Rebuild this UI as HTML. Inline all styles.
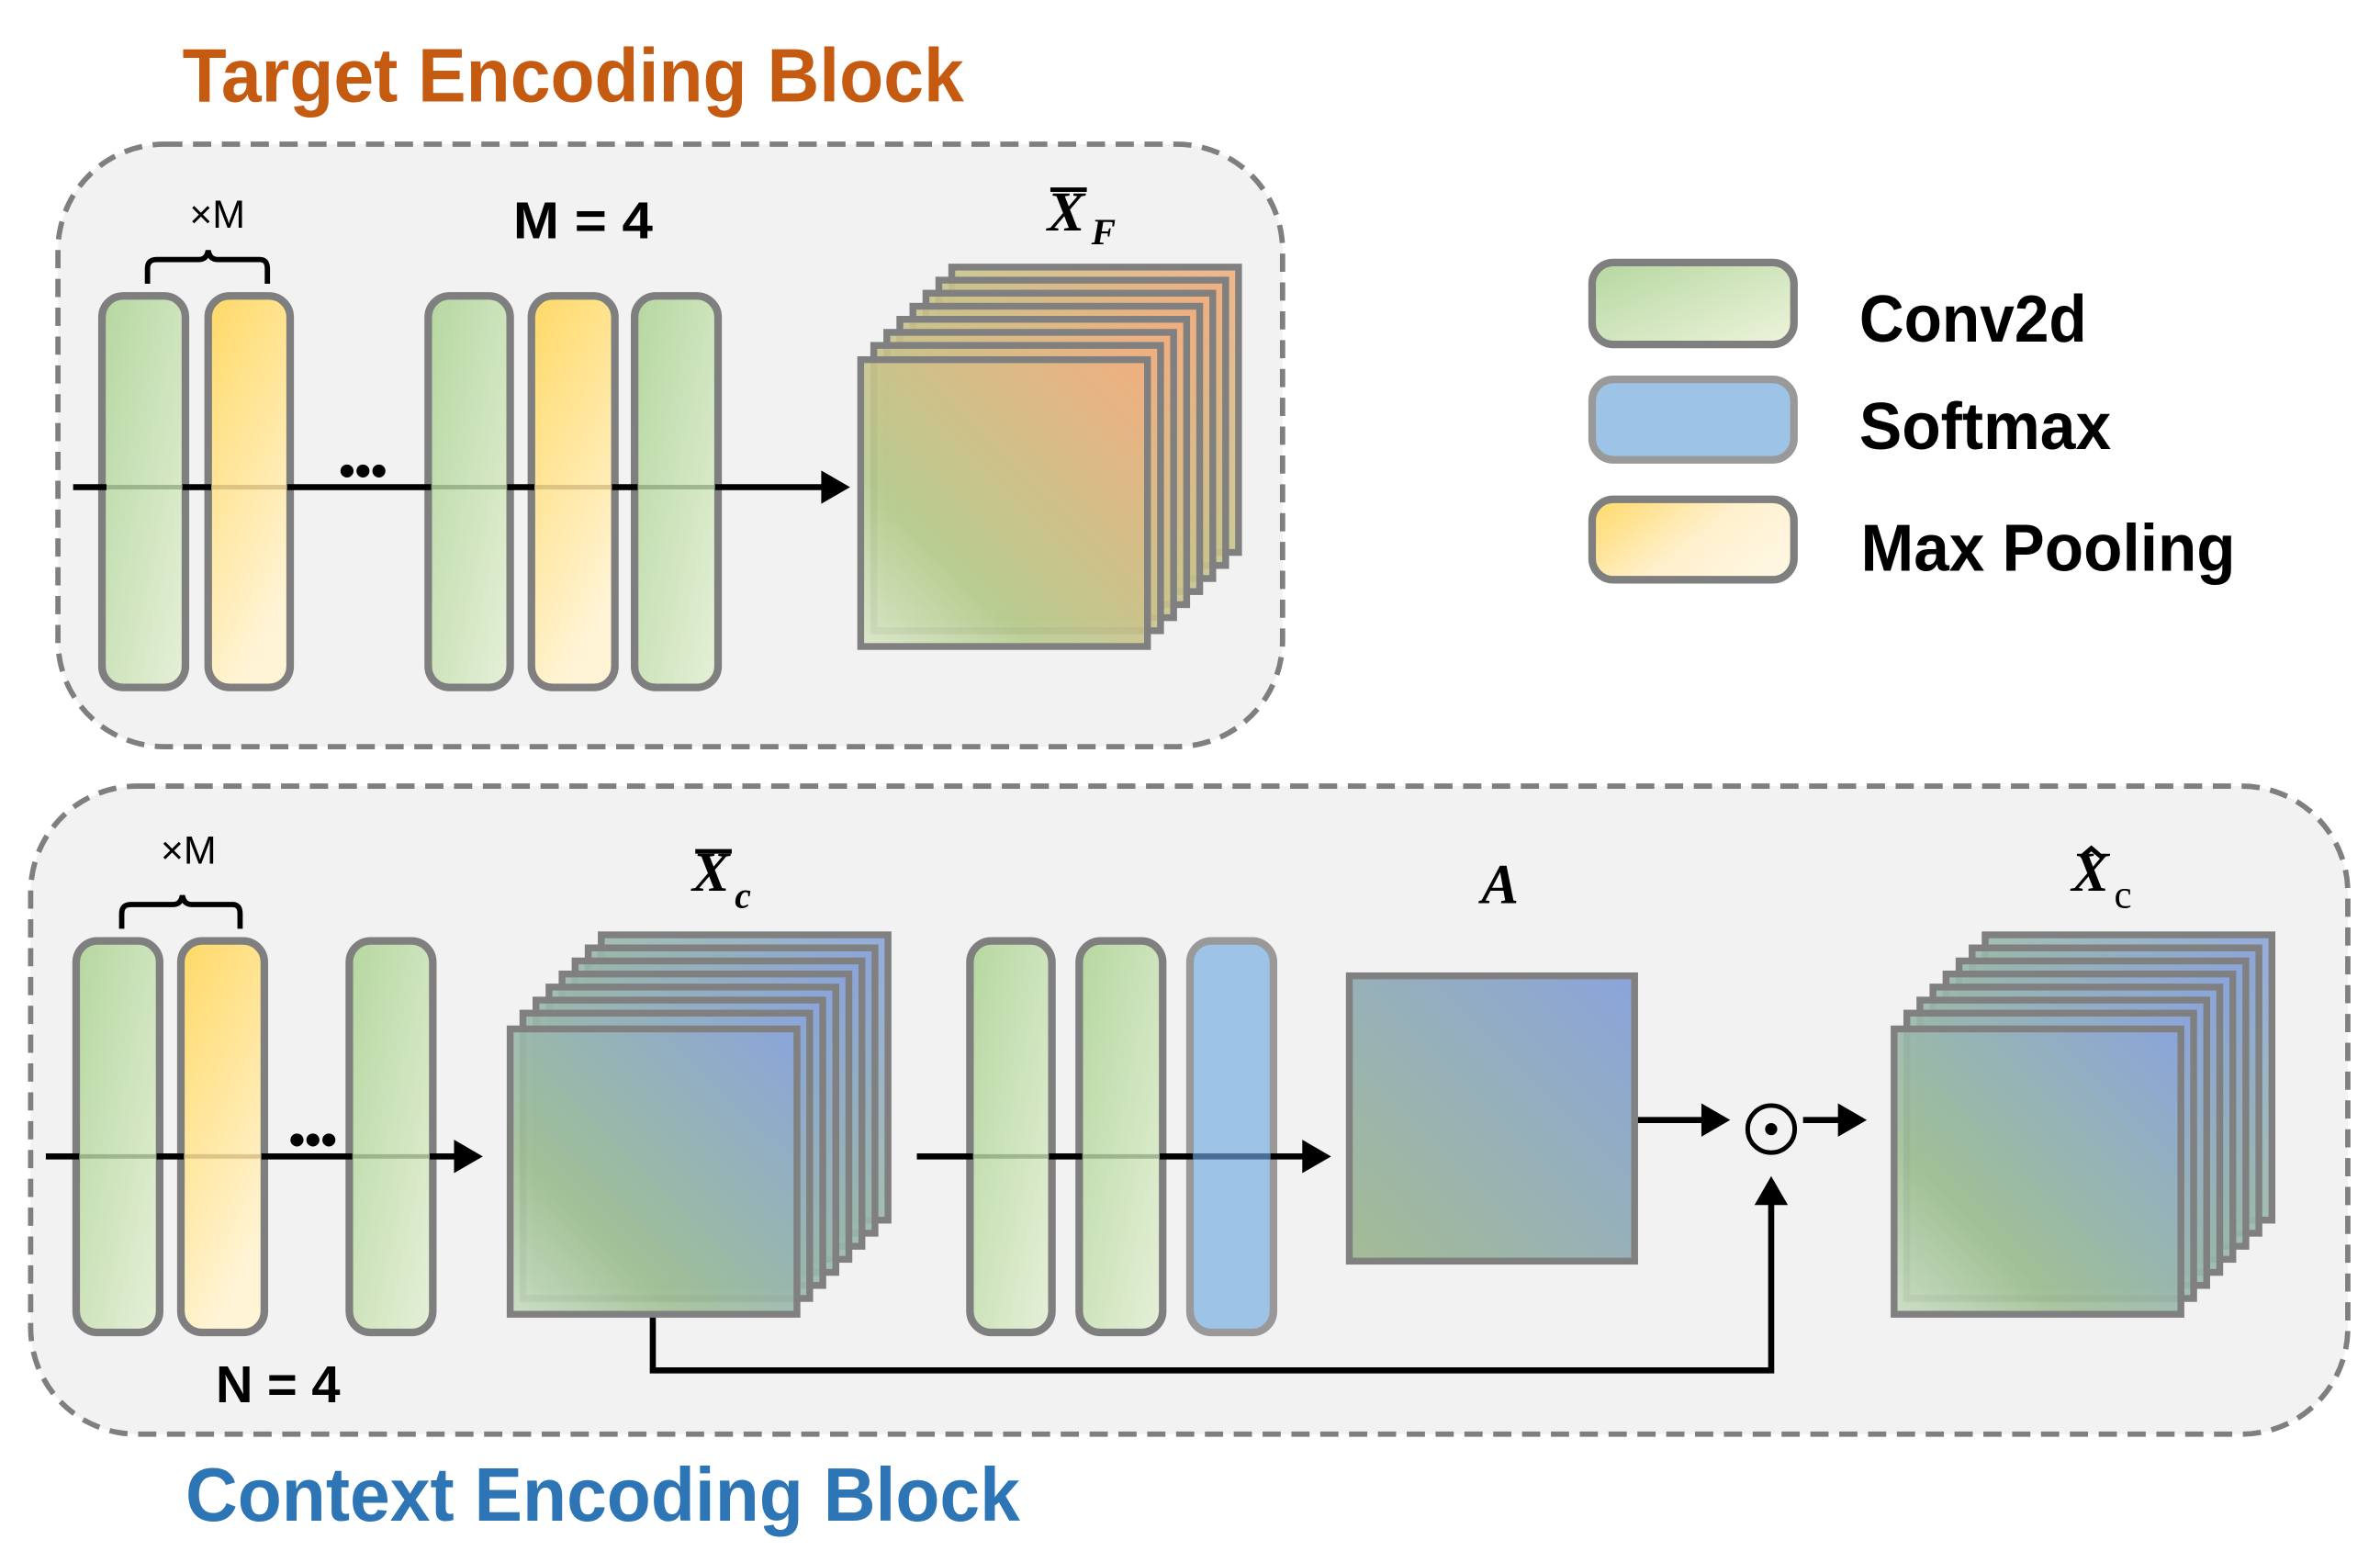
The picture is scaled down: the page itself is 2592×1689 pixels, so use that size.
<!DOCTYPE html>
<html><head><meta charset="utf-8"><style>
html,body{margin:0;padding:0;background:#fff;}
svg{display:block;}
.t{font-family:"Liberation Sans",sans-serif;font-weight:bold;}
.m{font-family:"Liberation Serif",serif;font-weight:bold;font-style:italic;}
</style></head><body>
<svg width="2592" height="1689" viewBox="0 0 1568 1022" xmlns="http://www.w3.org/2000/svg">
<defs>
<linearGradient id="g" x1="0" y1="0" x2="1" y2="1"><stop offset="0" stop-color="#b5d7a0"/><stop offset="1" stop-color="#e6f0d8"/></linearGradient>
<linearGradient id="o" x1="0" y1="0" x2="0.4" y2="1"><stop offset="0" stop-color="#ffd966"/><stop offset="1" stop-color="#fff4d6"/></linearGradient>
<linearGradient id="lg" x1="0" y1="0" x2="1" y2="1"><stop offset="0" stop-color="#b5d7a0"/><stop offset="1" stop-color="#eef4dc"/></linearGradient>
<linearGradient id="lo" x1="0" y1="0" x2="1" y2="0.5"><stop offset="0" stop-color="#ffd966"/><stop offset="0.6" stop-color="#fff0cc"/><stop offset="1" stop-color="#fff6e0"/></linearGradient>
<linearGradient id="sf" x1="0" y1="1" x2="1" y2="0"><stop offset="0" stop-color="#d8e6c8"/><stop offset="0.3" stop-color="#b8cc90"/><stop offset="1" stop-color="#f2ae80"/></linearGradient>
<linearGradient id="sc" x1="0" y1="1" x2="1" y2="0"><stop offset="0" stop-color="#c8dcc0"/><stop offset="0.3" stop-color="#a0c096"/><stop offset="1" stop-color="#8aa4dc"/></linearGradient>
<linearGradient id="sa" x1="0" y1="1" x2="1" y2="0"><stop offset="0" stop-color="#a4bc94"/><stop offset="1" stop-color="#8aa4dc"/></linearGradient>
</defs>

<text class="t" x="120" y="67" font-size="50" fill="#c55a11" textLength="515" lengthAdjust="spacingAndGlyphs">Target Encoding Block</text>
<rect x="38" y="95" width="807" height="397" rx="70" fill="#f2f2f2" stroke="#7f7f7f" stroke-width="3.5" stroke-dasharray="12,7"/>

<rect x="20" y="518" width="1527" height="427" rx="70" fill="#f2f2f2" stroke="#7f7f7f" stroke-width="3.5" stroke-dasharray="12,7"/>
<text class="t" x="122" y="1002" font-size="50" fill="#2e75b6" textLength="550" lengthAdjust="spacingAndGlyphs">Context Encoding Block</text>

<!-- top block -->
<g stroke="#7f7f7f" stroke-width="5">
<rect x="67" y="195" width="55" height="258" rx="14" fill="url(#g)"/>
<rect x="137" y="195" width="54" height="258" rx="14" fill="url(#o)"/>
<rect x="282" y="195" width="54" height="258" rx="14" fill="url(#g)"/>
<rect x="350" y="195" width="55" height="258" rx="14" fill="url(#o)"/>
<rect x="418" y="195" width="55" height="258" rx="14" fill="url(#g)"/>
</g>
<g stroke="#000" stroke-width="4" fill="none">
<line x1="48" y1="321" x2="70" y2="321"/><line x1="120" y1="321" x2="139" y2="321"/>
<line x1="189" y1="321" x2="284" y2="321"/><line x1="334" y1="321" x2="352" y2="321"/><line x1="403" y1="321" x2="420" y2="321"/>
<line x1="471" y1="321" x2="545" y2="321"/>
</g>
<g stroke="#7f9a70" stroke-width="3" opacity="0.6"><line x1="70" y1="321" x2="120" y2="321"/><line x1="284" y1="321" x2="334" y2="321"/><line x1="420" y1="321" x2="471" y2="321"/></g>
<g stroke="#c9ad70" stroke-width="3" opacity="0.6"><line x1="139" y1="321" x2="189" y2="321"/><line x1="352" y1="321" x2="403" y2="321"/></g>
<path d="M560,321 l-19,-11 v22 z" fill="#000"/>
<text class="t" x="239" y="320" font-size="30" text-anchor="middle">•••</text>
<path d="M97,187 v-10 q0,-6 6,-6 h28 q5,0 6,-6 q1,6 6,6 h28 q5,0 5,6 v10" fill="none" stroke="#000" stroke-width="3.5"/>
<text x="143" y="150" font-family="Liberation Sans,sans-serif" font-size="26" text-anchor="middle">×M</text>
<text class="t" x="384" y="157" font-size="34" text-anchor="middle" textLength="92" lengthAdjust="spacingAndGlyphs">M = 4</text>
<text class="m" x="690" y="152" font-size="37">X</text><line x1="692" y1="125" x2="716" y2="125" stroke="#000" stroke-width="3"/>
<text class="m" x="719" y="161" font-size="24">F</text>

<!-- stack F -->
<g stroke="#808080" stroke-width="4.5" fill="url(#sf)" fill-opacity="0.9">
<rect x="627" y="176" width="189" height="188"/>
<rect x="618.5" y="184.6" width="189" height="188"/>
<rect x="610" y="193.2" width="189" height="188"/>
<rect x="601.4" y="201.8" width="189" height="188"/>
<rect x="592.8" y="210.4" width="189" height="188"/>
<rect x="584.2" y="219" width="189" height="188"/>
<rect x="575.6" y="227.6" width="189" height="188"/>
<rect x="567" y="237" width="189" height="189"/>
</g>

<!-- legend -->
<g stroke="#7f7f7f" stroke-width="5">
<rect x="1049" y="173" width="133" height="54" rx="14" fill="url(#lg)"/>
<rect x="1049" y="250" width="133" height="53" rx="14" fill="#9dc3e6" stroke="#999"/>
<rect x="1049" y="329" width="133" height="53" rx="14" fill="url(#lo)"/>
</g>
<text class="t" x="1225" y="225" font-size="44" textLength="150" lengthAdjust="spacingAndGlyphs">Conv2d</text>
<text class="t" x="1225" y="296" font-size="44" textLength="166" lengthAdjust="spacingAndGlyphs">Softmax</text>
<text class="t" x="1226" y="376" font-size="44" textLength="247" lengthAdjust="spacingAndGlyphs">Max Pooling</text>

<!-- bottom block -->
<g stroke="#7f7f7f" stroke-width="5">
<rect x="50" y="620" width="55" height="258" rx="14" fill="url(#g)"/>
<rect x="119" y="620" width="55" height="258" rx="14" fill="url(#o)"/>
<rect x="230" y="620" width="55" height="258" rx="14" fill="url(#g)"/>
<rect x="639" y="620" width="54" height="258" rx="14" fill="url(#g)"/>
<rect x="711" y="620" width="55" height="258" rx="14" fill="url(#g)"/>
<rect x="784" y="620" width="55" height="258" rx="14" fill="#9dc3e6" stroke="#999"/>
</g>
<g stroke="#000" stroke-width="4" fill="none">
<line x1="30" y1="762" x2="52" y2="762"/><line x1="103" y1="762" x2="121" y2="762"/><line x1="172" y1="762" x2="232" y2="762"/>
<line x1="283" y1="762" x2="303" y2="762"/>
<line x1="604" y1="762" x2="641" y2="762"/><line x1="691" y1="762" x2="713" y2="762"/><line x1="764" y1="762" x2="786" y2="762"/>
<line x1="837" y1="762" x2="862" y2="762"/>
<line x1="1077" y1="738" x2="1125" y2="738"/><line x1="1188" y1="738" x2="1215" y2="738"/>
<polyline points="430,866 430,903 1167,903 1167,790"/>
</g>
<g stroke="#7f9a70" stroke-width="3" opacity="0.6"><line x1="52" y1="762" x2="103" y2="762"/><line x1="232" y1="762" x2="283" y2="762"/><line x1="641" y1="762" x2="691" y2="762"/><line x1="713" y1="762" x2="764" y2="762"/></g>
<g stroke="#c9ad70" stroke-width="3" opacity="0.6"><line x1="121" y1="762" x2="172" y2="762"/></g>
<line x1="786" y1="762" x2="837" y2="762" stroke="#4a6e98" stroke-width="4"/>
<path d="M318,762 l-19,-11 v22 z M877,762 l-19,-11 v22 z M1140,738 l-19,-11 v22 z M1230,738 l-19,-11 v22 z M1167,775 l-11,19 h22 z" fill="#000"/>
<text class="t" x="206" y="761" font-size="30" text-anchor="middle">•••</text>
<path d="M80,612 v-10 q0,-6 6,-6 h28 q5,0 6,-6 q1,6 6,6 h27 q5,0 5,6 v10" fill="none" stroke="#000" stroke-width="3.5"/>
<text x="124" y="569" font-family="Liberation Sans,sans-serif" font-size="26" text-anchor="middle">×M</text>
<text class="t" x="183" y="924" font-size="34" text-anchor="middle" textLength="82" lengthAdjust="spacingAndGlyphs">N = 4</text>

<text class="m" x="456" y="587" font-size="37">X</text><line x1="458" y1="561" x2="482" y2="561" stroke="#000" stroke-width="3"/>
<text class="m" x="484" y="598" font-size="24">c</text>
<text class="m" x="976" y="595" font-size="37">A</text>
<text class="m" x="1365" y="587" font-size="37">X</text>
<path d="M1371,565 l7,-6 l7,6" fill="none" stroke="#000" stroke-width="3"/>
<text x="1393" y="598" font-family="Liberation Serif,serif" font-size="26">c</text>

<g stroke="#808080" stroke-width="4.5" fill="url(#sc)" fill-opacity="0.9">
<rect x="396" y="616" width="189" height="188"/>
<rect x="387.4" y="624.6" width="189" height="188"/>
<rect x="378.8" y="633.2" width="189" height="188"/>
<rect x="370.2" y="641.8" width="189" height="188"/>
<rect x="361.6" y="650.4" width="189" height="188"/>
<rect x="353" y="659" width="189" height="188"/>
<rect x="344.4" y="667.6" width="189" height="188"/>
<rect x="336" y="678" width="189" height="188"/>
</g>
<g stroke="#808080" stroke-width="4.5" fill="url(#sc)" fill-opacity="0.9">
<rect x="1308" y="616" width="189" height="188"/>
<rect x="1299.4" y="624.6" width="189" height="188"/>
<rect x="1290.8" y="633.2" width="189" height="188"/>
<rect x="1282.2" y="641.8" width="189" height="188"/>
<rect x="1273.6" y="650.4" width="189" height="188"/>
<rect x="1265" y="659" width="189" height="188"/>
<rect x="1256.4" y="667.6" width="189" height="188"/>
<rect x="1248" y="678" width="189" height="188"/>
</g>
<rect x="889" y="643" width="188" height="188" fill="url(#sa)" stroke="#808080" stroke-width="4.5"/>
<circle cx="1167" cy="744" r="15.5" fill="none" stroke="#000" stroke-width="3"/>
<circle cx="1167" cy="744" r="4" fill="#000"/>
</svg>
</body></html>
